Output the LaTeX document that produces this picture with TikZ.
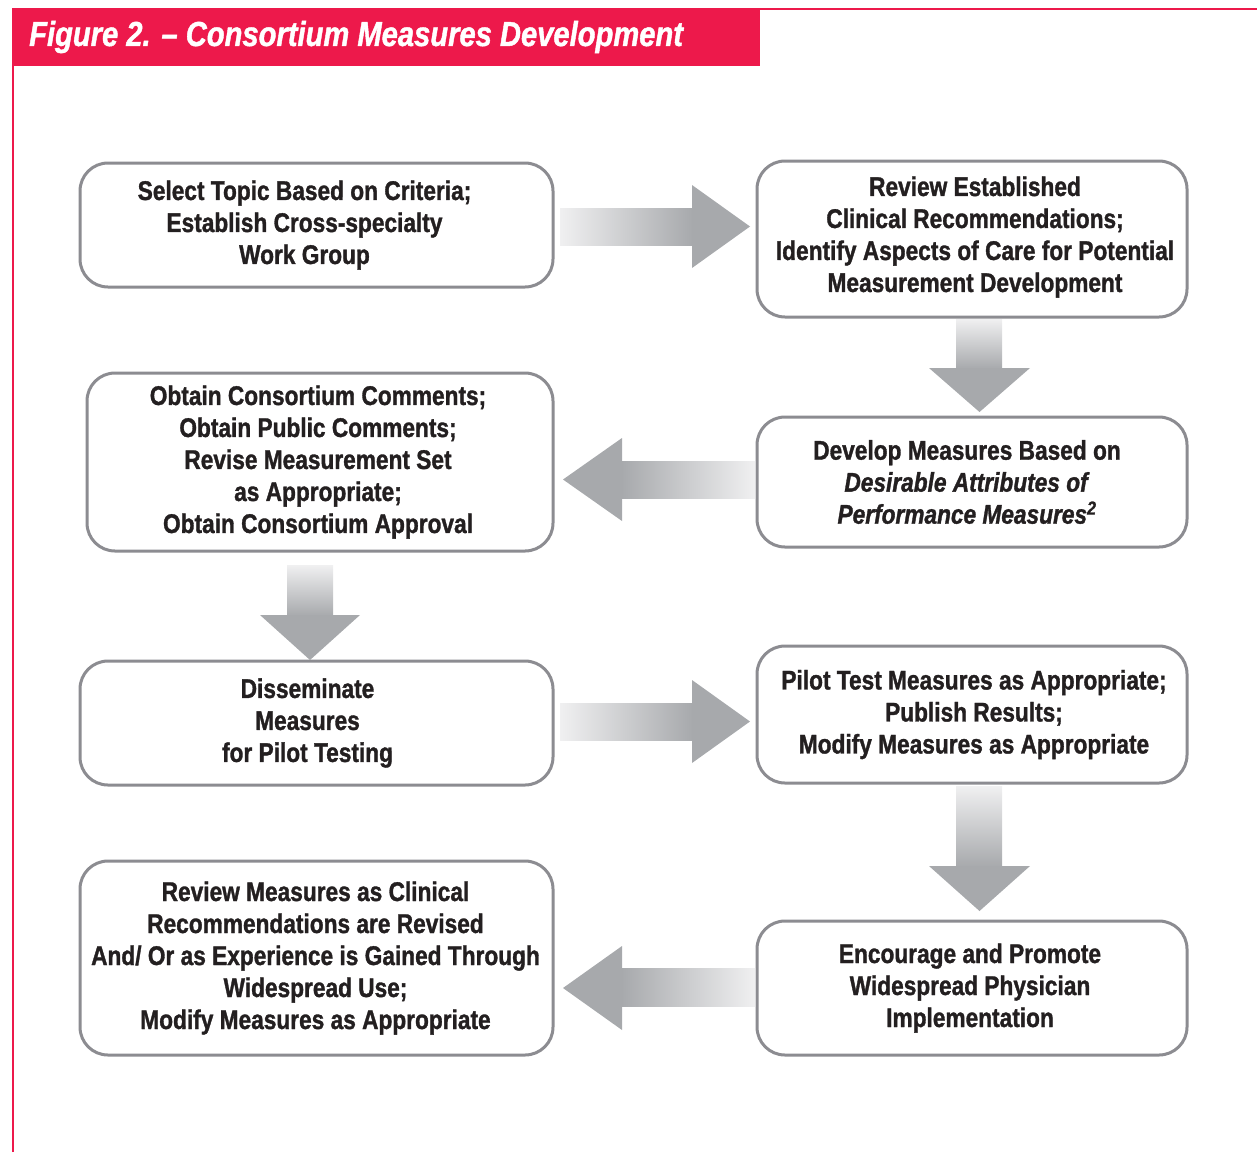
\documentclass[tikz,border=0pt]{standalone}
\usepackage{fontspec}
\setmainfont{Liberation Sans}[FakeStretch=0.84, BoldFeatures={FakeBold=1.2}, BoldItalicFeatures={FakeBold=1.2}]
\definecolor{figred}{RGB}{237,25,75}
\definecolor{boxline}{RGB}{140,140,145}
\definecolor{agray}{RGB}{167,169,172}
\definecolor{alight}{RGB}{240,240,241}
\definecolor{txt}{RGB}{35,31,32}
\tikzset{
  stepbox/.style={draw=boxline, line width=3pt, rounded corners=28pt, fill=white, inner sep=0pt},
  steptext/.style={align=center, text=txt, inner sep=0pt,
    font=\fontsize{27pt}{32pt}\selectfont\bfseries},
}
\begin{document}
\begin{tikzpicture}[x=1pt,y=-1pt]
\useasboundingbox (0,0) rectangle (1257,1152);
% frame
\draw[figred, line width=2.5pt] (13,1152) -- (13,9) -- (1257,9);
\fill[figred] (12,8) rectangle (760,66);
\node[anchor=west, text=white, inner sep=0pt, font=\fontsize{34.7pt}{40pt}\selectfont\bfseries\itshape] (title) at (29,37) {Figure 2. – Consortium Measures Development};

% boxes
\node[stepbox, minimum width=473pt, minimum height=124pt] (b1) at (316.5,225) {};
\node[steptext] (t1) at ([xshift=-12pt]b1.center)
  {Select Topic Based on Criteria;\\Establish Cross-specialty\\Work Group};
\node[stepbox, minimum width=430pt, minimum height=156pt] (b2) at (972,239) {};
\node[steptext] (t2) at ([xshift=3pt,yshift=2pt]b2.center)
  {Review Established\\Clinical Recommendations;\\Identify Aspects of Care for Potential\\Measurement Development};
\node[stepbox, minimum width=466pt, minimum height=178pt] (b3) at (320,462) {};
\node[steptext] (t3) at ([xshift=-2pt]b3.center)
  {Obtain Consortium Comments;\\Obtain Public Comments;\\Revise Measurement Set\\as Appropriate;\\Obtain Consortium Approval};
\node[stepbox, minimum width=430pt, minimum height=130pt] (b4) at (972,482) {};
\node[steptext] (t4) at ([xshift=-5pt]b4.center)
  {Develop Measures Based on\\\textit{Desirable Attributes of}\\\textit{Performance Measures\textsuperscript{2}}};
\node[stepbox, minimum width=473pt, minimum height=124pt] (b5) at (316.5,723) {};
\node[steptext] (t5) at ([xshift=-9pt]b5.center)
  {Disseminate\\Measures\\for Pilot Testing};
\node[stepbox, minimum width=430pt, minimum height=137pt] (b6) at (972,714.5) {};
\node[steptext] (t6) at ([xshift=2pt]b6.center)
  {Pilot Test Measures as Appropriate;\\Publish Results;\\Modify Measures as Appropriate};
\node[stepbox, minimum width=473pt, minimum height=194pt] (b7) at (316.5,958) {};
\node[steptext] (t7) at ([xshift=-1pt]b7.center)
  {Review Measures as Clinical\\Recommendations are Revised\\And/ Or as Experience is Gained Through\\Widespread Use;\\Modify Measures as Appropriate};
\node[stepbox, minimum width=430pt, minimum height=134pt] (b8) at (972,988) {};
\node[steptext] (t8) at ([xshift=-2pt]b8.center)
  {Encourage and Promote\\Widespread Physician\\Implementation};

% arrows: b1 -> b2
\shade[left color=alight, right color=agray] (560,208) rectangle (693,245);
\fill[agray] (692,185) -- (750,226.5) -- (692,268) -- cycle;
% b2 -> b4
\shade[top color=alight, bottom color=agray] (956,319) rectangle (1002,369);
\fill[agray] (929,368) -- (979.5,412) -- (1030,368) -- cycle;
% b4 -> b3
\shade[left color=agray, right color=alight] (621,461) rectangle (755,498);
\fill[agray] (622,438) -- (563,479.5) -- (622,521) -- cycle;
% b3 -> b5
\shade[top color=alight, bottom color=agray] (287,565) rectangle (333,616);
\fill[agray] (260,615) -- (310,660) -- (360,615) -- cycle;
% b5 -> b6
\shade[left color=alight, right color=agray] (560,703) rectangle (693,740);
\fill[agray] (692,680) -- (750,721.5) -- (692,763) -- cycle;
% b6 -> b8
\shade[top color=alight, bottom color=agray] (956,786) rectangle (1002,867);
\fill[agray] (929,866) -- (979.5,911) -- (1030,866) -- cycle;
% b8 -> b7
\shade[left color=agray, right color=alight] (621,968) rectangle (755,1006);
\fill[agray] (622,946) -- (563,988) -- (622,1030) -- cycle;
\end{tikzpicture}
\end{document}
